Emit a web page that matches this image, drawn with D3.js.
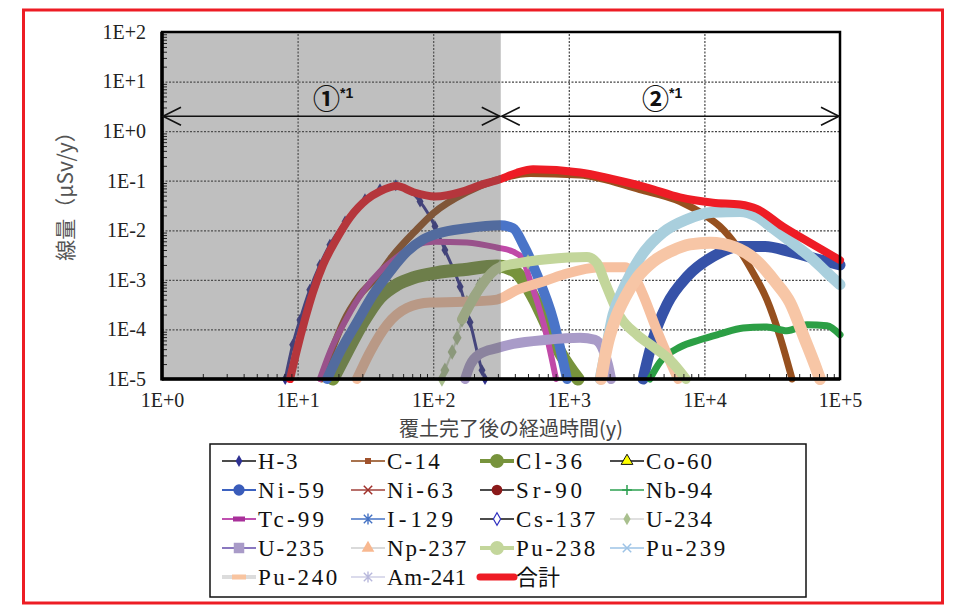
<!DOCTYPE html>
<html><head><meta charset="utf-8">
<script src="https://cdn.jsdelivr.net/npm/d3@7"></script>
<style>body{margin:0;background:#fff;}svg{display:block;}</style>
</head><body>
<svg id="chart" width="963" height="614"></svg>
<script>
// ---------------- DATA ----------------
const xTickValues = [1, 10, 100, 1000, 10000, 100000];
const xTickLabels = ["1E+0", "1E+1", "1E+2", "1E+3", "1E+4", "1E+5"];
const yTickValues = [1e2, 1e1, 1e0, 1e-1, 1e-2, 1e-3, 1e-4, 1e-5];
const yTickLabels = ["1E+2", "1E+1", "1E+0", "1E-1", "1E-2", "1E-3", "1E-4", "1E-5"];
const xTitle = "覆土完了後の経過時間(y)";
const yTitle = "線量（μSv/y）";
const periodNames = ["①", "②"];
const periodNote = "*1";
const periodBounds = [1, 315, 100000];   // years
const periodArrowDose = 2;               // μSv/y level of the arrows
const periodLabelYears = [13, 3470];

const nuclideNames = ["H-3","C-14","Cl-36","Co-60","Ni-59","Ni-63","Sr-90","Nb-94","Tc-99","I-129","Cs-137","U-234","U-235","Np-237","Pu-238","Pu-239","Pu-240","Am-241","合計"];

// [years, dose μSv/y]
const H3 = [[8.1,1e-5],[9.2,4.9e-5],[10.4,1.55e-4],[12.3,6.3e-4],[14.6,2.0e-3],[17.3,5.1e-3],[22.4,0.015],[31.4,0.042],[40.5,0.067],[53,0.081],[80,0.038],[103,0.012],[122,4.0e-3],[158,7.3e-4],[187,1.4e-4],[229,1.5e-5],[241,1e-5]];
const C14 = [[15,1e-5],[18,4e-5],[22,1.5e-4],[28,4.5e-4],[40,1.3e-3],[48,2.6e-3],[76,0.0105],[100,0.022],[177,0.059],[276,0.098],[520,0.14],[1200,0.13],[3330,0.066],[6600,0.038],[10400,0.019],[13000,0.012],[17400,4.7e-3],[22800,1.4e-3],[28900,4.0e-4],[36100,7.1e-5],[44300,1e-5]];
const Cl36 = [[18.2,1e-5],[23.1,3.5e-5],[30.4,1.4e-4],[40.5,4.4e-4],[54,8e-4],[71,1.1e-3],[107,1.4e-3],[166,1.6e-3],[295,1.9e-3],[400,1.5e-3],[470,9e-4],[560,4e-4],[690,1.2e-4],[860,3.5e-5],[1170,1e-5]];
const Co60 = [];
const Ni59 = [[3530,1e-5],[3650,1.5e-5],[4170,6.2e-5],[5300,3.2e-4],[7450,1.16e-3],[11560,2.95e-3],[18300,4.7e-3],[28000,4.7e-3],[42800,3.7e-3],[68800,2.6e-3],[100000,2.0e-3]];
const Ni63 = [];
const Sr90 = [];
const Nb94 = [[3960,1e-5],[4710,2.2e-5],[6600,4.4e-5],[9290,6.2e-5],[13000,8.1e-5],[19300,1.07e-4],[28900,1.12e-4],[40600,9.4e-5],[57100,1.24e-4],[80100,1.19e-4],[100000,7.8e-5]];
const Tc99 = [[14.6,1e-5],[17.3,3.5e-5],[23.1,1.7e-4],[30.4,5.8e-4],[40.5,1.47e-3],[48,2.2e-3],[76,5.2e-3],[100,5.9e-3],[177,5.7e-3],[295,4.5e-3],[389,3.7e-3],[452,2.8e-3],[517,1.0e-3],[593,3.2e-4],[679,8.5e-5],[805,1e-5]];
const I129 = [[16.5,1e-5],[20.5,3.5e-5],[27.4,1.4e-4],[36,5e-4],[48,1.47e-3],[64,3.7e-3],[84,6.5e-3],[108,8.6e-3],[177,0.011],[311,0.0126],[389,0.011],[460,5.2e-3],[582,1.27e-3],[765,1.6e-4],[970,1e-5]];
const Cs137 = [];
const U234 = [[116,1e-5],[122,1.5e-5],[138,3.5e-5],[150,6.8e-5],[163,1.56e-4],[177,3.5e-4],[221,8e-4],[311,1.8e-3],[500,2.3e-3]];
const U235 = [[172,1e-5],[187,1.9e-5],[221,3.2e-5],[295,4.2e-5],[389,5.1e-5],[690,6.2e-5],[1210,6.8e-5],[1560,6.2e-5],[1790,3.9e-5],[1950,1.9e-5],[2050,1e-5]];
const Np237 = [[27.4,1e-5],[34.2,3.5e-5],[45.6,1.24e-4],[64,2.7e-4],[95,3.5e-4],[166,3.6e-4],[295,4e-4],[415,6.3e-4],[613,8.8e-4],[906,1.27e-3],[1700,1.8e-3],[2600,1.8e-3],[3080,1.1e-3],[3650,4e-4],[4320,1.2e-4],[5210,3.5e-5],[6390,1e-5]];
const Pu238 = [[163,1.6e-4],[221,6.9e-4],[276,1.47e-3],[311,1.8e-3],[437,2.2e-3],[690,2.6e-3],[1360,2.9e-3],[1610,2.2e-3],[1850,8.8e-4],[2390,1.8e-4],[3190,7.8e-5],[4320,4.2e-5],[5580,2.4e-5],[7310,1e-5]];
const Pu239 = [[1700,1e-5],[1880,3.9e-5],[2120,1.97e-4],[2510,6.3e-4],[3350,2.8e-3],[4950,9e-3],[7450,0.0166],[11560,0.023],[18300,0.024],[24400,0.019],[32000,0.011],[48200,4.7e-3],[63100,2.6e-3],[80100,1.4e-3],[100000,8e-4]];
const Pu240 = [[1730,1e-5],[1910,4.4e-5],[2190,1.56e-4],[2600,4.4e-4],[3190,1.1e-3],[4170,2.3e-3],[5580,3.7e-3],[7830,5.2e-3],[11000,5.6e-3],[16800,4.5e-3],[23600,2.6e-3],[33200,9.2e-4],[42800,3.5e-4],[55200,6.2e-5],[65400,1.9e-5],[71200,1e-5]];
const Am241 = [];
const Total = [[8.8,1e-5],[9.9,3.9e-5],[11.3,1.55e-4],[13.0,5.7e-4],[15.4,2.0e-3],[18.9,5.9e-3],[24.3,0.018],[32.5,0.042],[40.5,0.061],[54,0.078],[71,0.059],[103,0.048],[166,0.061],[221,0.081],[311,0.107],[415,0.145],[545,0.17],[1210,0.147],[2120,0.107],[3770,0.073],[6600,0.046],[11560,0.036],[18300,0.033],[24400,0.027],[38000,0.0118],[60100,5.6e-3],[100000,2.5e-3]];

const seriesData = [H3,C14,Cl36,Co60,Ni59,Ni63,Sr90,Nb94,Tc99,I129,Cs137,U234,U235,Np237,Pu238,Pu239,Pu240,Am241,Total];

// ---------------- STYLES ----------------
const styles = {
 "H-3":   {plot:"#34358f", w:3,  mk:"diamond", mkFill:"#2e2f8a", mkSize:42, lgLine:"#111", lgW:1.5, lgMk:"diamond", lgFill:"#2e3192", lgSize:40},
 "C-14":  {plot:"#96501f", w:7,  lgLine:"#8b4513", lgW:1.5, lgMk:"square", lgFill:"#a0522d", lgSize:36},
 "Cl-36": {plot:"#77933c", w:13, lgLine:"#77933c", lgW:4, lgMk:"circle", lgFill:"#77933c", lgSize:150},
 "Co-60": {plot:"#000", w:2, lgLine:"#111", lgW:1.5, lgMk:"triangle", lgFill:"#ffff00", lgStroke:"#111", lgSize:60},
 "Ni-59": {plot:"#3652a8", w:11, lgLine:"#3c62c0", lgW:2, lgMk:"circle", lgFill:"#3a5cba", lgSize:100},
 "Ni-63": {plot:"#a0362d", w:2, lgLine:"#a0403a", lgW:1.5, lgMk:"times", lgFill:"#a0302a", lgSize:7},
 "Sr-90": {plot:"#7f1010", w:2, lgLine:"#111", lgW:1.5, lgMk:"circle", lgFill:"#8b1a1a", lgSize:90},
 "Nb-94": {plot:"#2c9f45", w:7, lgLine:"#2ca050", lgW:1.5, lgMk:"plus", lgFill:"#2ca050", lgSize:7},
 "Tc-99": {plot:"#c04aa8", w:6, lgLine:"#c050b0", lgW:2, lgMk:"dash", lgFill:"#a8309a", lgSize:6},
 "I-129": {plot:"#4a74c8", w:10, lgLine:"#4472c4", lgW:1.5, lgMk:"asterisk", lgFill:"#4472c4", lgSize:7},
 "Cs-137":{plot:"#3030c0", w:2, lgLine:"#111", lgW:1.5, lgMk:"diamond", lgFill:"#fff", lgStroke:"#3030c0", lgSize:45},
 "U-234": {plot:"#c9d4bb", w:2, mk:"diamond", mkFill:"#a9bf8e", mkSize:70, lgLine:"#d6d6d6", lgW:1.5, lgMk:"diamond", lgFill:"#a9c08e", lgSize:45},
 "U-235": {plot:"#a99bc8", w:10, lgLine:"#8a78bf", lgW:2, lgMk:"square", lgFill:"#a99bc8", lgSize:110},
 "Np-237":{plot:"#f6c0a0", w:10, lgLine:"#dadada", lgW:2, lgMk:"triangle", lgFill:"#f8b890", lgSize:70},
 "Pu-238":{plot:"#c3d69b", w:10, lgLine:"#c3d69b", lgW:4, lgMk:"circle", lgFill:"#c3d69b", lgSize:150},
 "Pu-239":{plot:"#a9cfdd", w:11, lgLine:"#9dc3e6", lgW:1.5, lgMk:"times", lgFill:"#9dc3e6", lgSize:7},
 "Pu-240":{plot:"#f7c6a6", w:12, lgLine:"#dcdcdc", lgW:4, lgMk:"dash", lgFill:"#f8c4a0", lgSize:7},
 "Am-241":{plot:"#c8c8e8", w:2, lgLine:"#cfcfe6", lgW:1.5, lgMk:"asterisk", lgFill:"#b8b8dc", lgSize:7},
 "合計":  {plot:"#ee1c25", w:8, lgLine:"#ee1c25", lgW:7}
};
const serifFont = "'Liberation Serif','Times New Roman',Times,serif";
const cjkFont = "'Noto Sans CJK JP', sans-serif";

// ---------------- CHART ----------------
const M = {left:162, right:840, top:32, bottom:379};
const svg = d3.select("#chart");
const x = d3.scaleLog().domain([xTickValues[0], xTickValues[xTickValues.length-1]]).range([M.left, M.right]);
const y = d3.scaleLog().domain([yTickValues[yTickValues.length-1], yTickValues[0]]).range([M.bottom, M.top]);

svg.append("rect").attr("x",23.5).attr("y",10).attr("width",919).attr("height",593)
  .attr("fill","#fff").attr("stroke","#ed1c24").attr("stroke-width",3);

// gridlines
const gridX = svg.append("g").attr("transform",`translate(0,${M.bottom})`)
  .call(d3.axisBottom(x).tickValues(xTickValues.slice(1,-1)).tickSize(-(M.bottom-M.top)).tickFormat(""));
gridX.select(".domain").remove();
gridX.selectAll("line").attr("stroke","#444").attr("stroke-width",1.2).attr("stroke-dasharray","2,1.5");
const gridY = svg.append("g").attr("transform",`translate(${M.left},0)`)
  .call(d3.axisLeft(y).tickValues(yTickValues.slice(1,-1)).tickSize(-(M.right-M.left)).tickFormat(""));
gridY.select(".domain").remove();
gridY.selectAll("line").attr("stroke","#444").attr("stroke-width",1.2).attr("stroke-dasharray","2,1.5");

// series
const line = d3.line().x(d=>x(d[0])).y(d=>y(d[1])).curve(d3.curveMonotoneX);
const plotG = svg.append("g");
nuclideNames.forEach((name,i)=>{
  const data = seriesData[i];
  const st = styles[name];
  if (!data.length) return;
  plotG.append("path").datum(data).attr("d",line)
    .attr("fill","none").attr("stroke",st.plot).attr("stroke-width",st.w)
    .attr("stroke-linejoin","round").attr("stroke-linecap","round");
  if (st.mk) {
    plotG.selectAll(null).data(data).enter().append("path")
      .attr("transform",d=>`translate(${x(d[0])},${y(d[1])})`)
      .attr("d",d3.symbol().type(d3.symbolDiamond).size(st.mkSize))
      .attr("fill",st.mkFill);
  }
});

// shaded period ① (semi-transparent overlay)
svg.append("rect").attr("x",x(periodBounds[0])).attr("y",M.top)
  .attr("width",x(periodBounds[1])-x(periodBounds[0])).attr("height",M.bottom-M.top)
  .attr("fill","#606060").attr("opacity",0.4);

// minor ticks (inward)
const yMinor=[], xMinor=[];
for (let n=-5;n<2;n++) for (let k=2;k<10;k++) yMinor.push(k*Math.pow(10,n));
for (let n=0;n<5;n++) for (let k=2;k<10;k++) xMinor.push(k*Math.pow(10,n));
const tY = svg.append("g").attr("transform",`translate(${M.left},0)`)
  .call(d3.axisLeft(y).tickValues(yMinor).tickSize(-5).tickFormat(""));
tY.select(".domain").remove(); tY.selectAll("line").attr("stroke","#222");
const tX = svg.append("g").attr("transform",`translate(0,${M.bottom})`)
  .call(d3.axisBottom(x).tickValues(xMinor).tickSize(-5).tickFormat(""));
tX.select(".domain").remove(); tX.selectAll("line").attr("stroke","#222");

// plot frame
svg.append("rect").attr("x",M.left).attr("y",M.top).attr("width",M.right-M.left).attr("height",M.bottom-M.top)
  .attr("fill","none").attr("stroke","#000").attr("stroke-width",2.5);
svg.append("line").attr("x1",M.left).attr("x2",M.left).attr("y1",M.top).attr("y2",M.bottom+1.5).attr("stroke","#000").attr("stroke-width",3.5);
svg.append("line").attr("x1",M.left).attr("x2",M.right).attr("y1",M.bottom).attr("y2",M.bottom).attr("stroke","#000").attr("stroke-width",3.5);

// tick labels
const xa = svg.append("g").attr("transform",`translate(0,${M.bottom})`)
  .call(d3.axisBottom(x).tickValues(xTickValues).tickFormat((d,i)=>xTickLabels[i]).tickSize(0).tickPadding(14));
xa.select(".domain").remove();
xa.selectAll("text").attr("font-family",serifFont).attr("font-size",20).attr("fill","#222");
const ya = svg.append("g").attr("transform",`translate(${M.left},0)`)
  .call(d3.axisLeft(y).tickValues(yTickValues).tickFormat((d,i)=>yTickLabels[i]).tickSize(0).tickPadding(16));
ya.select(".domain").remove();
ya.selectAll("text").attr("font-family",serifFont).attr("font-size",20).attr("fill","#222");

// axis titles
svg.append("text").attr("x",511).attr("y",436).attr("text-anchor","middle")
  .attr("font-family",cjkFont).attr("font-size",20).attr("fill","#444").text(xTitle);
svg.append("text").attr("transform","translate(64,191) rotate(-90)").attr("text-anchor","middle")
  .attr("dominant-baseline","central")
  .attr("font-family",cjkFont).attr("font-size",21).attr("fill","#555").text(yTitle);

// period arrows
const ay = y(periodArrowDose);
const arrowG = svg.append("g").attr("stroke","#111").attr("stroke-width",1.6).attr("fill","none");
[[0,1],[1,2]].forEach(([a,b])=>{
  const x1 = x(periodBounds[a]) + 1, x2 = x(periodBounds[b]) - 1;
  arrowG.append("line").attr("x1",x1).attr("x2",x2).attr("y1",ay).attr("y2",ay);
  arrowG.append("path").attr("d",`M${x1+18},${ay-9}L${x1},${ay}L${x1+18},${ay+9}`);
  arrowG.append("path").attr("d",`M${x2-18},${ay-9}L${x2},${ay}L${x2-18},${ay+9}`);
});
periodNames.forEach((nm,i)=>{
  const t = svg.append("text").attr("x",x(periodLabelYears[i])).attr("y",109)
    .attr("font-weight","bold").attr("fill","#111");
  t.append("tspan").attr("font-family",cjkFont).attr("font-size",27).text(nm);
  t.append("tspan").attr("font-family","'Liberation Sans', sans-serif").attr("font-size",14).attr("dy",-11).text(periodNote);
});

// ---------------- LEGEND ----------------
const lg = svg.append("g");
lg.append("rect").attr("x",210).attr("y",444).attr("width",596).attr("height",153)
  .attr("fill","#fff").attr("stroke","#111").attr("stroke-width",1.5);
const colX = [222, 351, 480, 610], rowY0 = 461, rowH = 29, lineLen = 34, charW = 13.2;
function marker(g, type, cx, cy, st){
  const fill = st.lgFill, size = st.lgSize;
  if (type==="diamond") g.append("path").attr("transform",`translate(${cx},${cy})`).attr("d",d3.symbol().type(d3.symbolDiamond).size(size)).attr("fill",fill).attr("stroke",st.lgStroke||"none").attr("stroke-width",1.2);
  else if (type==="square") g.append("path").attr("transform",`translate(${cx},${cy})`).attr("d",d3.symbol().type(d3.symbolSquare).size(size)).attr("fill",fill);
  else if (type==="circle") g.append("path").attr("transform",`translate(${cx},${cy})`).attr("d",d3.symbol().type(d3.symbolCircle).size(size)).attr("fill",fill);
  else if (type==="triangle") g.append("path").attr("transform",`translate(${cx},${cy})`).attr("d",d3.symbol().type(d3.symbolTriangle).size(size)).attr("fill",fill).attr("stroke",st.lgStroke||"none").attr("stroke-width",1);
  else if (type==="times") g.append("path").attr("d",`M${cx-size*0.6},${cy-size*0.6}L${cx+size*0.6},${cy+size*0.6}M${cx-size*0.6},${cy+size*0.6}L${cx+size*0.6},${cy-size*0.6}`).attr("stroke",fill).attr("stroke-width",1.5);
  else if (type==="plus") g.append("path").attr("d",`M${cx-size*0.7},${cy}L${cx+size*0.7},${cy}M${cx},${cy-size*0.7}L${cx},${cy+size*0.7}`).attr("stroke",fill).attr("stroke-width",1.5);
  else if (type==="asterisk") g.append("path").attr("d",`M${cx-size*0.6},${cy-size*0.6}L${cx+size*0.6},${cy+size*0.6}M${cx-size*0.6},${cy+size*0.6}L${cx+size*0.6},${cy-size*0.6}M${cx},${cy-size*0.8}L${cx},${cy+size*0.8}`).attr("stroke",fill).attr("stroke-width",1.4);
  else if (type==="dash") g.append("rect").attr("x",cx-size).attr("y",cy-2.5).attr("width",size*2).attr("height",5).attr("fill",fill);
}
nuclideNames.forEach((name,i)=>{
  const st = styles[name];
  const cx = colX[i%4], cy = rowY0 + Math.floor(i/4)*rowH;
  const g = lg.append("g");
  g.append("line").attr("x1",cx).attr("x2",cx+lineLen).attr("y1",cy).attr("y2",cy)
    .attr("stroke",st.lgLine).attr("stroke-width",st.lgW).attr("stroke-linecap",name==="合計"?"round":"butt");
  if (st.lgMk) marker(g, st.lgMk, cx+lineLen/2, cy, st);
  const isCJK = name==="合計";
  const t = g.append("text").attr("x",cx+lineLen+2).attr("y",cy+7.5)
    .attr("font-family", isCJK ? cjkFont : serifFont)
    .attr("font-size",isCJK?22:23).attr("fill","#111").text(name);
  if (!isCJK) t.attr("textLength", name.length*charW).attr("lengthAdjust","spacing");
});
</script>
</body></html>
